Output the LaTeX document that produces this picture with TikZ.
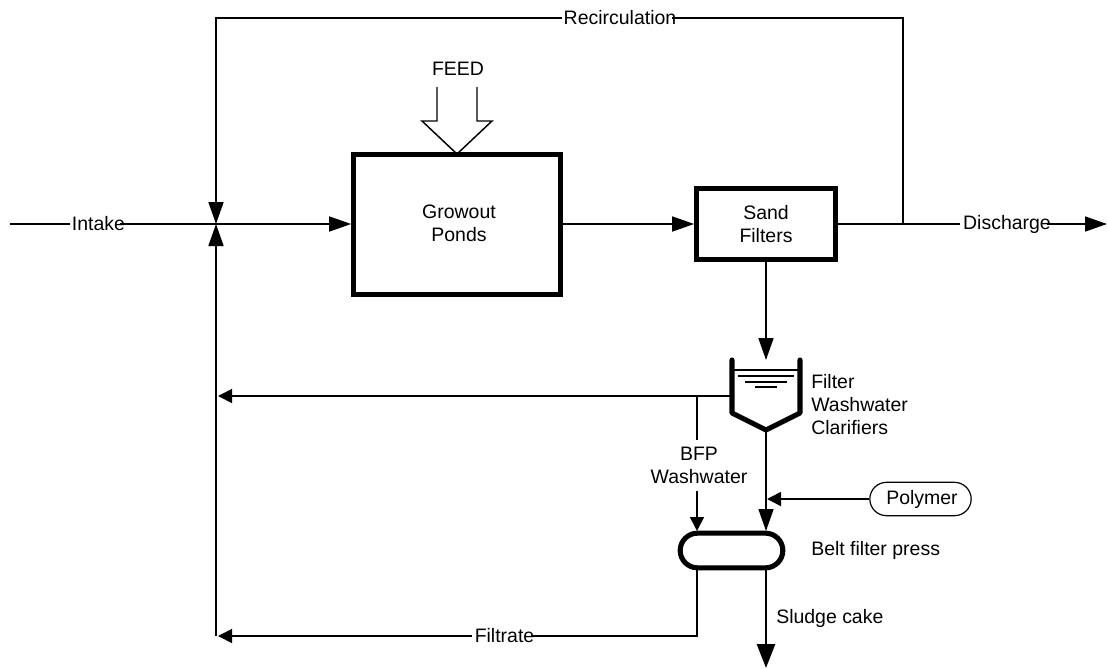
\documentclass[tikz,border=0pt]{standalone}
\usepackage{fontspec}
\setmainfont{Liberation Sans}
\usetikzlibrary{arrows.meta,shapes.misc}
\newcommand{\lbl}{\fontsize{14.6}{17.25}\selectfont}
\tikzset{
  px/.style={x=0.75pt,y=-0.75pt},
  plain/.style={draw=black,line width=1.25pt},
  flow/.style={plain,-{Triangle[length=16.5pt,width=11.25pt]}},
  smallflow/.style={plain,-{Triangle[length=10.5pt,width=10.5pt]}},
  unit/.style={draw=black,line width=3.8pt,fill=white,inner sep=0pt,align=center,font=\lbl},
  lab/.style={inner sep=0pt,align=center,font=\lbl,text=black},
}
\begin{document}
\begin{tikzpicture}[px]
\useasboundingbox (0,0) rectangle (1107,668);
% coordinates
\coordinate (intakeEnd) at (10,224);
\coordinate (intakeGapL) at (70,224);
\coordinate (intakeGapR) at (120,224);
\coordinate (junction) at (216,224);
\coordinate (recTL) at (216,18);
\coordinate (recGapL) at (562,18);
\coordinate (recGapR) at (672,18);
\coordinate (recTR) at (903,18);
\coordinate (recB) at (903,224);
\coordinate (disGapL) at (960,224);
\coordinate (disGapR) at (1047,224);
\coordinate (dischargeEnd) at (1107,224);
\coordinate (clarTip) at (766,430);
\coordinate (clarOut) at (731,396);
\coordinate (branch) at (697,396);
\coordinate (retEnd) at (218,396);
\coordinate (bfpGapT) at (697,440);
\coordinate (bfpGapB) at (697,491);
\coordinate (bfpEnd) at (697,531);
\coordinate (filtCorner) at (697,636);
\coordinate (filtGapR) at (531,636);
\coordinate (filtGapL) at (472,636);
\coordinate (filtLeft) at (216,636);
\coordinate (filtEnd) at (218,636);
\coordinate (polyJoin) at (767,499);
\coordinate (sludgeEnd) at (766,668);
% units
\node[unit,minimum width=155pt,minimum height=104.5pt] (ponds) at (457,224.5) {};
\node[lab] (pondsText) at (459,223.5) {Growout\\Ponds};
\node[unit,minimum width=104pt,minimum height=53pt] (sand) at (766,224) {Sand\\Filters};
\node[draw=black,line width=3.8pt,fill=white,rounded rectangle,minimum width=77pt,minimum height=26pt,inner sep=0pt] (press) at (731.5,550.5) {};
\node[draw=black,line width=0.9pt,fill=white,rounded rectangle,minimum width=76pt,minimum height=25pt,inner sep=0pt] (polymer) at (920.5,499) {};
\node[lab] (polymerText) at (922,499) {Polymer};
% labels
\node[lab] (feed) at (458,69) {FEED};
\node[lab,align=left,anchor=west] (clarLabel) at (811,405) {Filter\\Washwater\\Clarifiers};
\node[lab,anchor=west] (pressLabel) at (811,550) {Belt filter press};
\node[lab,anchor=west] (sludgeLabel) at (776,618) {Sludge cake};
\node[lab] (bfp) at (699,465) {BFP\\Washwater};
\node[lab] (intake) at (98.5,224) {Intake};
\node[lab] (recirc) at (620,18) {Recirculation};
\node[lab] (discharge) at (1007,224) {Discharge};
\node[lab] (filtrate) at (504.5,636) {Filtrate};
% feed arrow
\draw[draw=black,line width=1.1pt,line join=miter] (437,87) -- (437,121) -- (422,121) -- (457,154) -- (492,121) -- (477,121) -- (477,87);
% main line
\path[plain] (intakeEnd) -- (intakeGapL);
\path[plain] (intakeGapR) -- (junction);
\path[flow] (junction) -- (ponds.west |- junction);
\path[flow] (ponds.east |- junction) -- (sand.west);
\path[plain,line width=1.5pt] (sand.east) -- (recB);
\path[plain] (recB) -- (disGapL);
\path[flow] (disGapR) -- (dischargeEnd);
% recirculation
\path[plain] (recB) -- (recTR) -- (recGapR);
\path[flow] (recGapL) -- (recTL) -- (junction);
\path[flow] (filtLeft) -- (junction);
% sand to clarifier
\path[flow] (sand.south) -- (766,360);
% clarifier
\draw[draw=black,line width=3.8pt,line join=round,line cap=round] (732,360) -- (732,413) -- (clarTip) -- (800,413) -- (800,360);
\draw[draw=black,line width=0.9pt] (732,370) -- (800,370);
\draw[draw=black,line width=0.9pt] (738,376) -- (794,376);
\draw[draw=black,line width=0.9pt] (745,382) -- (787,382);
\draw[draw=black,line width=0.9pt] (755,387) -- (777,387);
% clarifier outputs
\path[smallflow] (clarOut) -- (retEnd);
\path[plain] (branch) -- (bfpGapT);
\path[smallflow] (bfpGapB) -- (bfpEnd);
\path[flow] (clarTip) -- (766,531);
\path[smallflow] (polymer.west) -- (polyJoin);
% press outputs
\draw[draw=black,line width=2.2pt,-{Triangle[length=18pt,width=13.5pt]}] (766,567) -- (sludgeEnd);
\path[plain] (697,567) -- (filtCorner) -- (filtGapR);
\path[smallflow] (filtGapL) -- (filtEnd);
\end{tikzpicture}
\end{document}
